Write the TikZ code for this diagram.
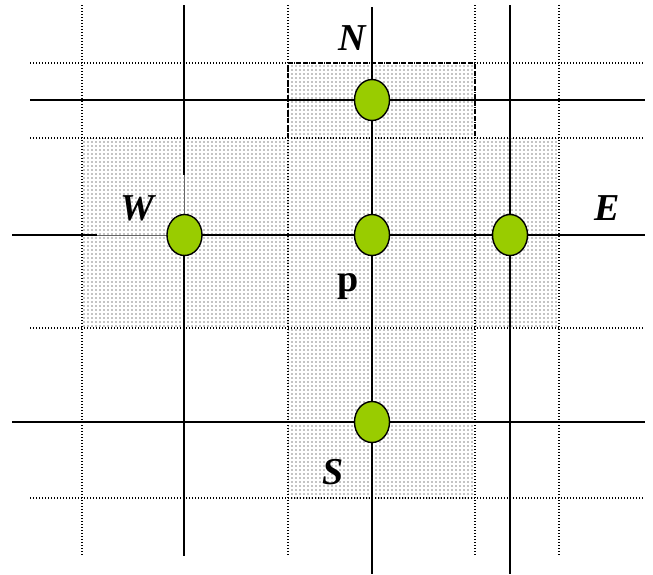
\documentclass[tikz,border=0pt]{standalone}
\usepackage{fontspec}
\setmainfont{Liberation Serif}
\usetikzlibrary{shapes.geometric,patterns.meta}
\tikzdeclarepattern{
  name=finedots,
  type=uncolored,
  bottom left={(-1pt,-1pt)},
  top right={(3pt,3pt)},
  tile size={(4pt,4pt)},
  code={\fill (0pt,0pt) circle (0.7pt);}
}
\definecolor{nodegreen}{RGB}{153,204,0}
\tikzset{
  gridline/.style={line width=1.1pt, dash pattern=on 1pt off 2pt, black},
  solidline/.style={line width=2pt, black},
  thinline/.style={line width=0.5pt, black!60},
  cellborder/.style={line width=1.3pt, dash pattern=on 5pt off 2.5pt, black},
  shaded/.style={pattern={finedots}, pattern color=black},
  point/.style={ellipse, draw=black, line width=1.4pt, fill=nodegreen,
    minimum width=35pt, minimum height=41pt, inner sep=0pt},
  lbl/.style={font=\fontsize{38}{42}\selectfont\bfseries\itshape, inner sep=0pt},
  plbl/.style={font=\fontsize{38}{42}\selectfont\bfseries, inner sep=0pt}
}
\begin{document}
\begin{tikzpicture}[x=1pt,y=-1pt]
\useasboundingbox (0,0) rectangle (653,574);
% shaded cross
\fill[shaded] (82,138) rectangle (559,328);
\fill[shaded] (288,63) rectangle (475,138);
\fill[shaded] (288,328) rectangle (475,498);
% dotted grid
\foreach \x in {82,288,475,559} \draw[gridline] (\x,5) -- (\x,555);
\foreach \y in {63,138,328,498} \draw[gridline] (30,\y) -- (644,\y);
% dashed border of N cell
\draw[cellborder] (288,138) -- (288,63) -- (475,63) -- (475,138);
% solid lines
\draw[solidline] (184,5) -- (184,175);
\draw[thinline] (184,175) -- (184,215);
\draw[solidline] (184,215) -- (184,556);
\draw[solidline] (372,7) -- (372,574);
\draw[solidline] (510,5) -- (510,574);
\draw[solidline] (30,100) -- (645,100);
\draw[solidline] (12,235) -- (97,235);
\draw[thinline] (97,235) -- (167,235);
\draw[solidline] (167,235) -- (645,235);
\draw[solidline] (12,422) -- (645,422);
% points
\node[point] (w) at (184.5,235) {};
\node[point] (n) at (372,100) {};
\node[point] (c) at (372,235) {};
\node[point] (e) at (510,235) {};
\node[point] (s) at (372,422) {};
% labels
\node[lbl] (nl) at (352,38) {N};
\node[lbl] (wl) at (137,208) {W};
\node[lbl] (el) at (607,208) {E};
\node[lbl] (sl) at (333,472) {S};
\node[plbl,anchor=base] (pl) at (348,291) {p};
\end{tikzpicture}
\end{document}
